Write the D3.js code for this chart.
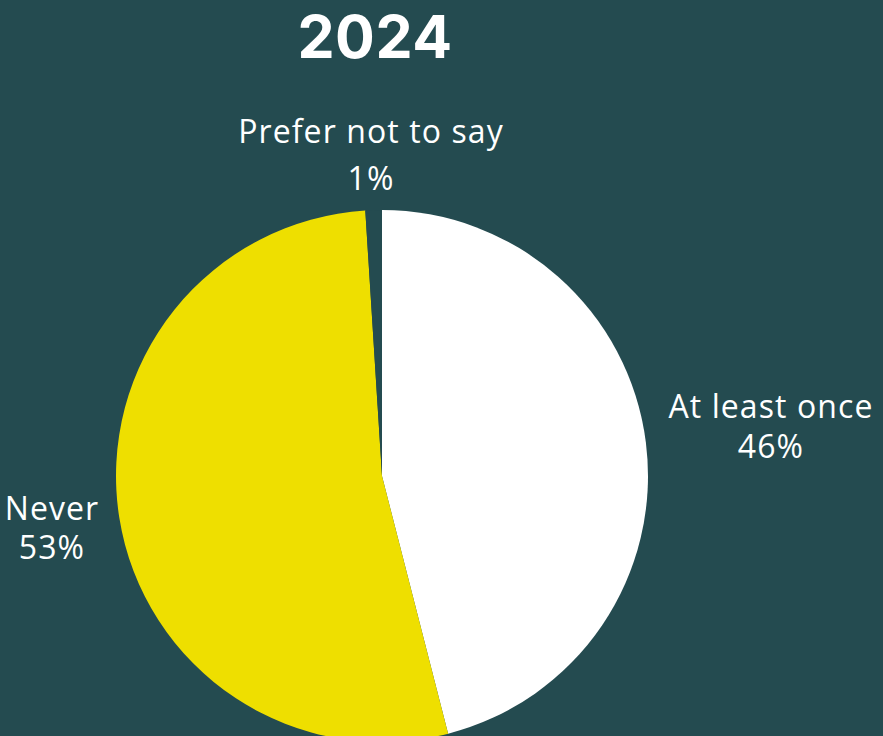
<!DOCTYPE html>
<html>
<head>
<meta charset="utf-8">
<script src="https://cdn.jsdelivr.net/npm/d3@7"></script>
<style>
  html, body { margin: 0; padding: 0; background: #244b50; overflow: hidden; }
  svg { display: block; }
</style>
</head>
<body>
<svg id="chart" width="883" height="736"></svg>
<script>
// Survey answers for 2024
const title = "2024";
const categories = ["At least once", "Never", "Prefer not to say"];
const values = [46, 53, 1];
const valueLabels = ["46%", "53%", "1%"];
const sliceColors = ["#ffffff", "#eedf00", "#244b50"];

const W = 883, H = 736;
const cx = 382, cy = 476, radius = 266;
const bg = "#244b50";
const labelFont = "'Open Sans', 'Noto Sans', sans-serif";
const titleFont = "Inter, 'Open Sans', sans-serif";

// Where each two-line label sits: centre x, first baseline, gap to second baseline
const labelLayout = {
  "At least once":     { x: 771, y: 418, gap: 40 },
  "Never":             { x: 52,  y: 520, gap: 39 },
  "Prefer not to say": { x: 371, y: 143, gap: 47 }
};

const svg = d3.select("#chart");

svg.append("rect").attr("width", W).attr("height", H).attr("fill", bg);

svg.append("text")
  .attr("x", 375).attr("y", 57.5)
  .attr("text-anchor", "middle")
  .attr("font-family", titleFont)
  .attr("font-weight", 700)
  .attr("font-size", 59)
  .attr("letter-spacing", 0.5)
  .attr("fill", "#ffffff")
  .text(title);

const pie = d3.pie().sort(null).value(d => d.value);
const arc = d3.arc().innerRadius(0).outerRadius(radius);

const data = categories.map((c, i) => ({ name: c, value: values[i], label: valueLabels[i], color: sliceColors[i] }));
const arcs = pie(data);

svg.append("g")
  .attr("transform", `translate(${cx},${cy})`)
  .selectAll("path.slice")
  .data(arcs)
  .join("path")
  .attr("class", "slice")
  .attr("d", arc)
  .attr("fill", d => d.data.color);

const labels = svg.append("g")
  .selectAll("text.label")
  .data(arcs)
  .join("text")
  .attr("class", "label")
  .attr("font-family", labelFont)
  .attr("font-size", 32)
  .attr("letter-spacing", 1.1)
  .attr("fill", "#ffffff")
  .attr("text-anchor", "middle");

labels.append("tspan")
  .attr("x", d => labelLayout[d.data.name].x)
  .attr("y", d => labelLayout[d.data.name].y)
  .text(d => d.data.name);

labels.append("tspan")
  .attr("x", d => labelLayout[d.data.name].x)
  .attr("y", d => labelLayout[d.data.name].y + labelLayout[d.data.name].gap)
  .text(d => d.data.label);
</script>
</body>
</html>
